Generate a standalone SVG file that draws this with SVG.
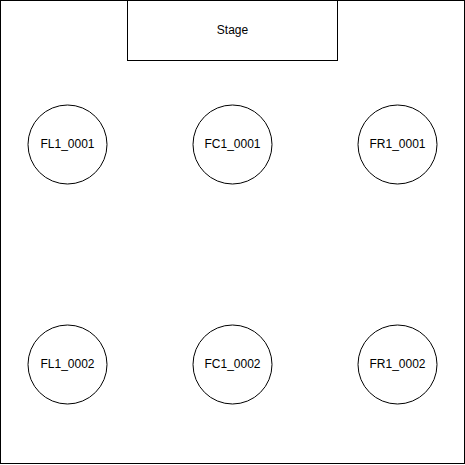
<svg xmlns="http://www.w3.org/2000/svg" width="465" height="465" viewBox="0 0 465 465">
<style>
.s{fill:#fff;stroke:#000;stroke-width:1}
.t{font-family:"Liberation Sans",Arial,sans-serif;font-size:12px;fill:#000;text-anchor:middle;dominant-baseline:central}
</style>
<rect width="465" height="465" fill="#fff"/>
<g id="room"><rect class="s" x="0.5" y="0.5" width="464" height="463"/></g>
<g id="stage"><rect class="s" x="127.5" y="0.5" width="210" height="60"/><text class="t" x="232.5" y="29.5">Stage</text></g>
<g id="FL1_0001"><circle class="s" cx="67.5" cy="144.5" r="39.5"/><text class="t" x="67.5" y="143.5">FL1_0001</text></g>
<g id="FC1_0001"><circle class="s" cx="232.5" cy="144.5" r="39.5"/><text class="t" x="232.5" y="143.5">FC1_0001</text></g>
<g id="FR1_0001"><circle class="s" cx="397.5" cy="144.5" r="39.5"/><text class="t" x="397.5" y="143.5">FR1_0001</text></g>
<g id="FL1_0002"><circle class="s" cx="67.5" cy="364.5" r="39.5"/><text class="t" x="67.5" y="363.5">FL1_0002</text></g>
<g id="FC1_0002"><circle class="s" cx="232.5" cy="364.5" r="39.5"/><text class="t" x="232.5" y="363.5">FC1_0002</text></g>
<g id="FR1_0002"><circle class="s" cx="397.5" cy="364.5" r="39.5"/><text class="t" x="397.5" y="363.5">FR1_0002</text></g>
<g id="connectors"/>
</svg>
